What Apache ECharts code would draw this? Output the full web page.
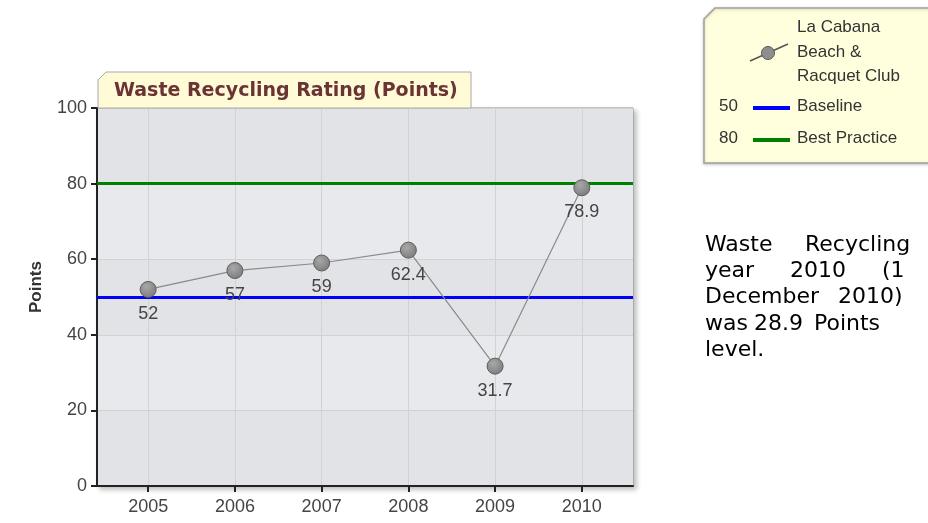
<!DOCTYPE html>
<html>
<head>
<meta charset="utf-8">
<script src="https://cdn.jsdelivr.net/npm/echarts@6/dist/echarts.min.js"></script>
<style>
  html, body { margin: 0; padding: 0; background: #fff; }
  #chart { width: 928px; height: 523px; }
</style>
</head>
<body>
<div id="chart"></div>
<script>
// data
var years = [2005, 2006, 2007, 2008, 2009, 2010];
var rating = [52, 57, 59, 62.4, 31.7, 78.9];
var seriesName = 'La Cabana Beach & Racquet Club';
var refNames = ['Baseline', 'Best Practice'];
var refValues = [50, 80];
var refColors = ['#0000ff', '#008000'];

var titleText = 'Waste Recycling Rating (Points)';
// side note, one row per line, words placed like justified text
var noteLines = [
  [['Waste', 705], ['Recycling', 805]],
  [['year', 705], ['2010', 790], ['(1', 882]],
  [['December', 705], ['2010)', 838]],
  [['was', 705], ['28.9', 754], ['Points', 814]],
  [['level.', 705]]
];

var pts = [];
for (var i = 0; i < years.length; i++) {
  pts.push([years[i], rating[i]]);
}

var labelFont = 'Liberation Sans, Arial, sans-serif';

var refSeries = [];
for (var k = 0; k < refNames.length; k++) {
  refSeries.push({
    name: refNames[k],
    type: 'line',
    data: [],
    z: 3,
    markLine: {
      silent: true,
      symbol: 'none',
      label: { show: false },
      lineStyle: { color: refColors[k], width: 3, type: 'solid' },
      data: [{ yAxis: refValues[k] }]
    }
  });
}

var graphics = [];
// title tab
graphics.push({
  type: 'polygon',
  shape: { points: [[98, 108], [98, 80], [106, 72], [471, 72], [471, 108]] },
  style: { fill: '#fffbd6', stroke: '#a8a8a8', lineWidth: 1 },
  z: 10
});
graphics.push({
  type: 'text', left: 114, top: 82, z: 11,
  style: { text: titleText, font: 'bold 19px DejaVu Sans', fill: '#6b3434' }
});

// legend box
graphics.push({
  type: 'polygon',
  shape: { points: [[704, 163], [704, 19], [715, 8], [935, 8], [935, 163]] },
  style: { fill: '#ffffdd', stroke: '#a0a0a0', lineWidth: 1.5,
    shadowColor: 'rgba(0,0,0,0.2)', shadowBlur: 3, shadowOffsetY: 1 },
  z: 10
});
var legLines = ['La Cabana', 'Beach &', 'Racquet Club'];
for (var j = 0; j < legLines.length; j++) {
  graphics.push({
    type: 'text', left: 797, top: 19 + j * 24.5, z: 11,
    style: { text: legLines[j], font: '17px ' + labelFont, fill: '#333' }
  });
}
graphics.push({
  type: 'line', z: 11,
  shape: { x1: 750, y1: 61, x2: 788, y2: 44 },
  style: { stroke: '#555', lineWidth: 1.5 }
});
graphics.push({
  type: 'circle', z: 12,
  shape: { cx: 768, cy: 53, r: 6.5 },
  style: { fill: '#8e8e8e', stroke: '#5a5a5a', lineWidth: 1 }
});
for (var k2 = 0; k2 < refNames.length; k2++) {
  var ly = 108 + k2 * 32;
  graphics.push({
    type: 'text', left: 719, top: ly - 10, z: 11,
    style: { text: String(refValues[k2]), font: '17px ' + labelFont, fill: '#333' }
  });
  graphics.push({
    type: 'line', z: 11,
    shape: { x1: 753, y1: ly, x2: 790, y2: ly },
    style: { stroke: refColors[k2], lineWidth: 4 }
  });
  graphics.push({
    type: 'text', left: 797, top: ly - 10, z: 11,
    style: { text: refNames[k2], font: '17px ' + labelFont, fill: '#333' }
  });
}

// side note
for (var r = 0; r < noteLines.length; r++) {
  for (var w = 0; w < noteLines[r].length; w++) {
    graphics.push({
      type: 'text', left: noteLines[r][w][1], top: 234 + r * 26.3, z: 11,
      style: { text: noteLines[r][w][0], font: '22px DejaVu Sans', fill: '#000' }
    });
  }
}

var chart = echarts.init(document.getElementById('chart'));
var option = {
  animation: false,
  backgroundColor: '#fff',
  grid: {
    left: 97, top: 108, right: 295, bottom: 37,
    show: true,
    backgroundColor: '#e2e3e6',
    borderColor: '#8f8f8f',
    borderWidth: 1,
    shadowColor: 'rgba(0,0,0,0.25)',
    shadowBlur: 5,
    shadowOffsetX: 3,
    shadowOffsetY: 3
  },
  xAxis: {
    type: 'value',
    min: 2004.41,
    max: 2010.59,
    axisLine: { show: true, lineStyle: { color: '#222', width: 2 } },
    axisTick: { show: true, length: 6, customValues: years, lineStyle: { color: '#222', width: 2 } },
    axisLabel: { customValues: years, margin: 12, fontSize: 18, color: '#444', fontFamily: labelFont,
      formatter: function (v) { return String(v); } },
    splitLine: { show: true, lineStyle: { color: '#d2d2d2', width: 1 } }
  },
  yAxis: {
    type: 'value',
    min: 0, max: 100, interval: 20,
    name: 'Points',
    nameLocation: 'middle',
    nameGap: 52,
    nameTextStyle: { fontSize: 17, fontWeight: 'bold', color: '#333', fontFamily: labelFont,
      padding: [0, 0, 0, 20] },
    axisLine: { show: true, lineStyle: { color: '#222', width: 2 } },
    axisTick: { show: true, length: 6, lineStyle: { color: '#222', width: 2 } },
    axisLabel: { margin: 10, fontSize: 18, color: '#444', fontFamily: labelFont },
    splitLine: { show: true, lineStyle: { color: '#d2d2d2', width: 1 } },
    splitArea: { show: true, areaStyle: { color: ['#e2e3e6', '#e7e9ed'] } }
  },
  series: refSeries.concat([{
    name: seriesName,
    type: 'line',
    data: pts,
    z: 5,
    symbol: 'circle',
    symbolSize: 16,
    lineStyle: { color: '#8a8a8a', width: 1.2 },
    itemStyle: {
      color: new echarts.graphic.RadialGradient(0.4, 0.35, 0.7, [
        { offset: 0, color: '#a8a8a8' },
        { offset: 1, color: '#7a7a7a' }
      ]),
      borderColor: '#5e5e5e',
      borderWidth: 1
    },
    label: {
      show: true,
      position: 'bottom',
      distance: 7,
      fontSize: 18,
      color: '#444',
      fontFamily: labelFont
    }
  }]),
  graphic: graphics
};
chart.setOption(option);
</script>
</body>
</html>
